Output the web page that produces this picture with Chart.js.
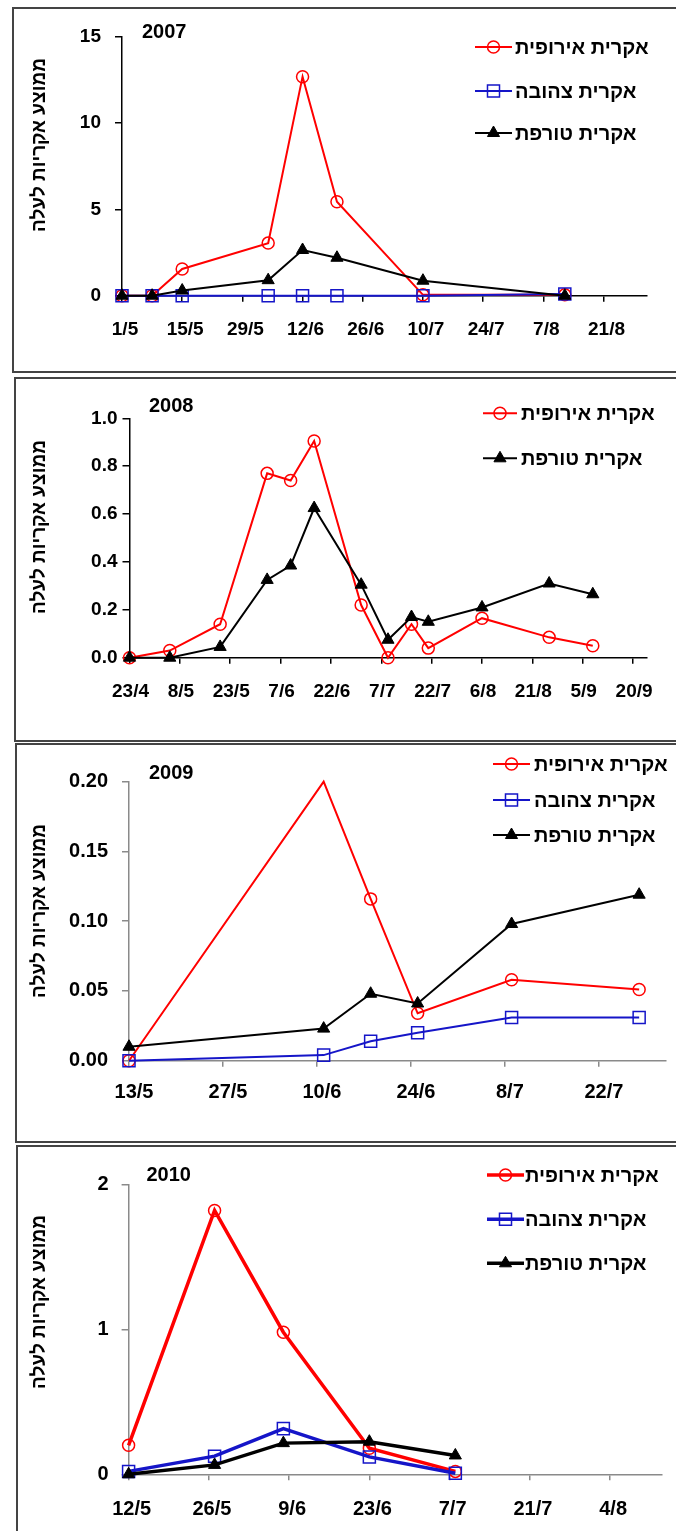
<!DOCTYPE html>
<html>
<head>
<meta charset="utf-8">
<script src="https://cdn.jsdelivr.net/npm/chart.js@4.4.1/dist/chart.umd.min.js"></script>
<style>
  html, body { margin: 0; padding: 0; background: #fff; }
  body { width: 676px; height: 1531px; position: relative; overflow: hidden; }
  .box { position: absolute; border: 2px solid #444; box-sizing: border-box; background: #fff; }
  canvas { position: absolute; left: 0; }
</style>
</head>
<body>
<div class="box" style="left:12px; top:7px; width:680px; height:366px;"></div>
<div class="box" style="left:14px; top:377px; width:680px; height:365px;"></div>
<div class="box" style="left:15px; top:743px; width:680px; height:400px;"></div>
<div class="box" style="left:16px; top:1145px; width:680px; height:400px;"></div>
<canvas id="c2007" width="676" height="373" style="top:0px"></canvas>
<canvas id="c2008" width="676" height="367" style="top:375px"></canvas>
<canvas id="c2009" width="676" height="400" style="top:743px"></canvas>
<canvas id="c2010" width="676" height="386" style="top:1145px"></canvas>
<script>
// Series names and the shared axis title
const seriesNames = ['אקרית אירופית', 'אקרית צהובה', 'אקרית טורפת'];
const yAxisTitle = 'ממוצע אקריות לעלה';

// 2007 samplings
const dates2007   = ['1/5', '8/5', '15/5', '4/6', '12/6', '20/6', '10/7', '12/8'];
const euro2007    = [0, 0, 1.55, 3.05, 12.7, 5.45, 0.05, 0.05];
const yellow2007  = [0, 0, 0, 0, 0, 0, 0, 0.1];
const pred2007    = [0, 0, 0.3, 0.9, 2.65, 2.2, 0.87, 0];
const xTicks2007  = ['1/5', '15/5', '29/5', '12/6', '26/6', '10/7', '24/7', '7/8', '21/8'];
const xEnd2007    = '31/8';
const yTicks2007  = [0, 5, 10, 15];

// 2008 samplings (no yellow mite series)
const dates2008   = ['23/4', '5/5', '20/5', '3/6', '10/6', '17/6', '1/7', '9/7', '16/7', '21/7', '6/8', '26/8', '8/9'];
const euro2008    = [0, 0.03, 0.14, 0.77, 0.74, 0.905, 0.22, 0, 0.14, 0.04, 0.165, 0.085, 0.05];
const pred2008    = [0, 0, 0.045, 0.325, 0.385, 0.625, 0.305, 0.075, 0.17, 0.15, 0.21, 0.31, 0.265];
const xTicks2008  = ['23/4', '8/5', '23/5', '7/6', '22/6', '7/7', '22/7', '6/8', '21/8', '5/9', '20/9'];
const xEnd2008    = '24/9';
const yTicks2008  = [0, 0.2, 0.4, 0.6, 0.8, 1.0];

// 2009 samplings
const dates2009   = ['13/5', '11/6', '18/6', '25/6', '9/7', '28/7'];
const euro2009    = [0, 0.2, 0.116, 0.034, 0.058, 0.051];
const yellow2009  = [0, 0.004, 0.014, 0.02, 0.031, 0.031];
const pred2009    = [0.01, 0.023, 0.048, 0.041, 0.098, 0.119];
const xTicks2009  = ['13/5', '27/5', '10/6', '24/6', '8/7', '22/7'];
const xEnd2009    = '1/8';
const yTicks2009  = [0, 0.05, 0.10, 0.15, 0.20];

// 2010 samplings
const dates2010   = ['12/5', '27/5', '8/6', '23/6', '8/7'];
const euro2010    = [0.2, 1.82, 0.98, 0.18, 0.02];
const yellow2010  = [0.02, 0.125, 0.315, 0.12, 0.007];
const pred2010    = [0, 0.065, 0.215, 0.225, 0.13];
const xTicks2010  = ['12/5', '26/5', '9/6', '23/6', '7/7', '21/7', '4/8'];
const xEnd2010    = '13/8';
const yTicks2010  = [0, 1, 2];

const FONT = '"Liberation Sans", Arial, Helvetica, sans-serif';
Chart.defaults.font.family = FONT;
Chart.defaults.font.weight = 'bold';
Chart.defaults.color = '#000';

// "d/m" -> day number within the given year
function dayNum(s, year) {
  const [d, m] = s.split('/').map(Number);
  return Date.UTC(year, m - 1, d) / 864e5;
}

// Marker and line looks of the three mite species
const speciesStyle = [
  { color: '#ff0000', pointStyle: 'circle',   radius: 6,   fill: 'rgba(0,0,0,0)', pw: 1.5 },
  { color: '#1515c8', pointStyle: 'rect',     radius: 8.5, fill: 'rgba(0,0,0,0)', pw: 1.5 },
  { color: '#000000', pointStyle: 'triangle', radius: 7,   fill: '#000000',       pw: 1 }
];

function drawMarker(ctx, st, x, y) {
  ctx.save();
  ctx.fillStyle = st.fill;
  ctx.strokeStyle = st.color;
  ctx.lineWidth = st.pw;
  if (Chart.helpers && Chart.helpers.drawPoint) {
    Chart.helpers.drawPoint(ctx, { pointStyle: st.pointStyle, radius: st.radius, rotation: 0, borderWidth: st.pw }, x, y);
  }
  ctx.restore();
}

// Year caption, rotated axis title and line+marker legend
const panelText = {
  id: 'panelText',
  afterDraw(chart, args, o) {
    const ctx = chart.ctx;
    ctx.save();
    ctx.fillStyle = '#000';
    ctx.textBaseline = 'middle';
    // year
    ctx.font = 'bold ' + o.yearSize + 'px ' + FONT;
    ctx.textAlign = 'left';
    ctx.fillText(o.year, o.yearX, o.yearY);
    // axis title
    ctx.save();
    ctx.translate(o.titleX, o.titleY);
    ctx.rotate(-Math.PI / 2);
    ctx.textAlign = 'center';
    ctx.font = 'bold ' + o.titleSize + 'px ' + FONT;
    ctx.fillText(yAxisTitle, 0, 0);
    ctx.restore();
    // legend
    ctx.font = 'bold ' + o.legendSize + 'px ' + FONT;
    ctx.textAlign = 'left';
    chart.data.datasets.forEach((ds, i) => {
      const y = o.legendRows[i];
      const st = ds.speciesStyle;
      ctx.strokeStyle = st.color;
      ctx.lineWidth = ds.borderWidth;
      ctx.beginPath();
      ctx.moveTo(o.legendX0, y);
      ctx.lineTo(o.legendX1, y);
      ctx.stroke();
      drawMarker(ctx, st, (o.legendX0 + o.legendX1) / 2, y);
      ctx.fillStyle = '#000';
      ctx.fillText(ds.label, o.legendTextX, y + 1);
    });
    ctx.restore();
  }
};

function makeChart(p) {
  const datasets = p.series.map((vals, k) => {
    const si = p.speciesIdx[k];
    const st = speciesStyle[si];
    return {
      label: seriesNames[si],
      speciesStyle: st,
      data: p.dates.map((d, i) => ({ x: dayNum(d, p.year), y: vals[i] })),
      borderColor: st.color,
      borderWidth: p.lineWidth,
      pointStyle: st.pointStyle,
      pointRadius: p.hiddenPoints && p.hiddenPoints[k]
        ? p.hiddenPoints[k].map(h => (h ? 0 : st.radius))
        : st.radius,
      pointBorderColor: st.color,
      pointBackgroundColor: st.fill,
      pointBorderWidth: st.pw,
      tension: 0,
      clip: false,
      order: 3 - si
    };
  });
  const xs = p.xTicks;
  const ys = p.yTicks;
  return new Chart(document.getElementById(p.id), {
    type: 'line',
    data: { datasets },
    options: {
      responsive: false,
      animation: false,
      events: [],
      layout: { padding: p.padding },
      plugins: {
        legend: { display: false },
        tooltip: { enabled: false },
        panelText: p.text
      },
      scales: {
        x: {
          type: 'linear',
          min: dayNum(xs[0], p.year),
          max: dayNum(p.xEnd, p.year),
          afterBuildTicks: (s) => { s.ticks = xs.map(t => ({ value: dayNum(t, p.year) })); },
          afterFit: (s) => { s.height = p.xAxisHeight; },
          ticks: {
            callback: (v, i) => xs[i],
            font: { size: p.xFont, weight: 'bold' },
            padding: p.xPad,
            labelOffset: p.xLabelOffset,
            maxRotation: 0,
            autoSkip: false
          },
          grid: { drawOnChartArea: false, drawTicks: true, tickLength: 6, color: p.axisColor, lineWidth: 1.5 },
          border: { display: true, color: p.axisColor, width: 1.5 }
        },
        y: {
          type: 'linear',
          min: ys[0],
          max: ys[ys.length - 1],
          afterBuildTicks: (s) => { s.ticks = ys.map(v => ({ value: v })); },
          afterFit: (s) => { s.width = p.yAxisWidth; },
          ticks: {
            callback: (v) => Number(v).toFixed(p.decimals),
            font: { size: p.yFont, weight: 'bold' },
            padding: p.yPad
          },
          grid: { drawOnChartArea: false, drawTicks: true, tickLength: 7, color: p.axisColor, lineWidth: 1.5 },
          border: { display: true, color: p.axisColor, width: 1.5 }
        }
      }
    },
    plugins: [panelText]
  });
}

makeChart({
  id: 'c2007', year: 2007, dates: dates2007,
  series: [euro2007, yellow2007, pred2007], speciesIdx: [0, 1, 2],
  xTicks: xTicks2007, xEnd: xEnd2007, yTicks: yTicks2007, decimals: 0,
  lineWidth: 2, axisColor: '#000',
  padding: { left: 0, top: 37, right: 29.5, bottom: 27.3 },
  yAxisWidth: 122, xAxisHeight: 50,
  xFont: 19, yFont: 19, xPad: 17, yPad: 14, xLabelOffset: 3,
  text: { year: '2007', yearX: 142, yearY: 32, yearSize: 20,
          titleX: 40, titleY: 145, titleSize: 19,
          legendX0: 475, legendX1: 512, legendTextX: 515, legendRows: [47, 91, 133], legendSize: 20 }
});

makeChart({
  id: 'c2008', year: 2008, dates: dates2008,
  series: [euro2008, pred2008], speciesIdx: [0, 2],
  xTicks: xTicks2008, xEnd: xEnd2008, yTicks: yTicks2008, decimals: 1,
  lineWidth: 2, axisColor: '#000',
  padding: { left: 0, top: 43.3, right: 29.5, bottom: 34.3 },
  yAxisWidth: 129.5, xAxisHeight: 50,
  xFont: 19, yFont: 19, xPad: 17, yPad: 5, xLabelOffset: 1,
  text: { year: '2008', yearX: 149, yearY: 31.7, yearSize: 20,
          titleX: 40, titleY: 152, titleSize: 19,
          legendX0: 483, legendX1: 517, legendTextX: 521, legendRows: [38.3, 83.3], legendSize: 20 }
});

makeChart({
  id: 'c2009', year: 2009, dates: dates2009,
  series: [euro2009, yellow2009, pred2009], speciesIdx: [0, 1, 2],
  hiddenPoints: [[false, true, false, false, false, false], null, null],
  xTicks: xTicks2009, xEnd: xEnd2009, yTicks: yTicks2009, decimals: 2,
  lineWidth: 2, axisColor: '#8a8a8a',
  padding: { left: 0, top: 38.7, right: 8, bottom: 32.3 },
  yAxisWidth: 129, xAxisHeight: 50,
  xFont: 20, yFont: 20, xPad: 14, yPad: 14, xLabelOffset: 5,
  text: { year: '2009', yearX: 149, yearY: 30, yearSize: 20,
          titleX: 40, titleY: 168, titleSize: 19,
          legendX0: 493, legendX1: 530, legendTextX: 534, legendRows: [21, 57, 92], legendSize: 20 }
});

makeChart({
  id: 'c2010', year: 2010, dates: dates2010,
  series: [euro2010, yellow2010, pred2010], speciesIdx: [0, 1, 2],
  xTicks: xTicks2010, xEnd: xEnd2010, yTicks: yTicks2010, decimals: 0,
  lineWidth: 3.5, axisColor: '#8a8a8a',
  padding: { left: 0, top: 39.3, right: 14.3, bottom: 6.7 },
  yAxisWidth: 128.6, xAxisHeight: 50,
  xFont: 20, yFont: 20, xPad: 17, yPad: 13, xLabelOffset: 3,
  text: { year: '2010', yearX: 146.5, yearY: 30, yearSize: 20,
          titleX: 40, titleY: 157, titleSize: 19,
          legendX0: 487, legendX1: 524, legendTextX: 525, legendRows: [30, 74.3, 118.3], legendSize: 20 }
});
</script>
</body>
</html>
